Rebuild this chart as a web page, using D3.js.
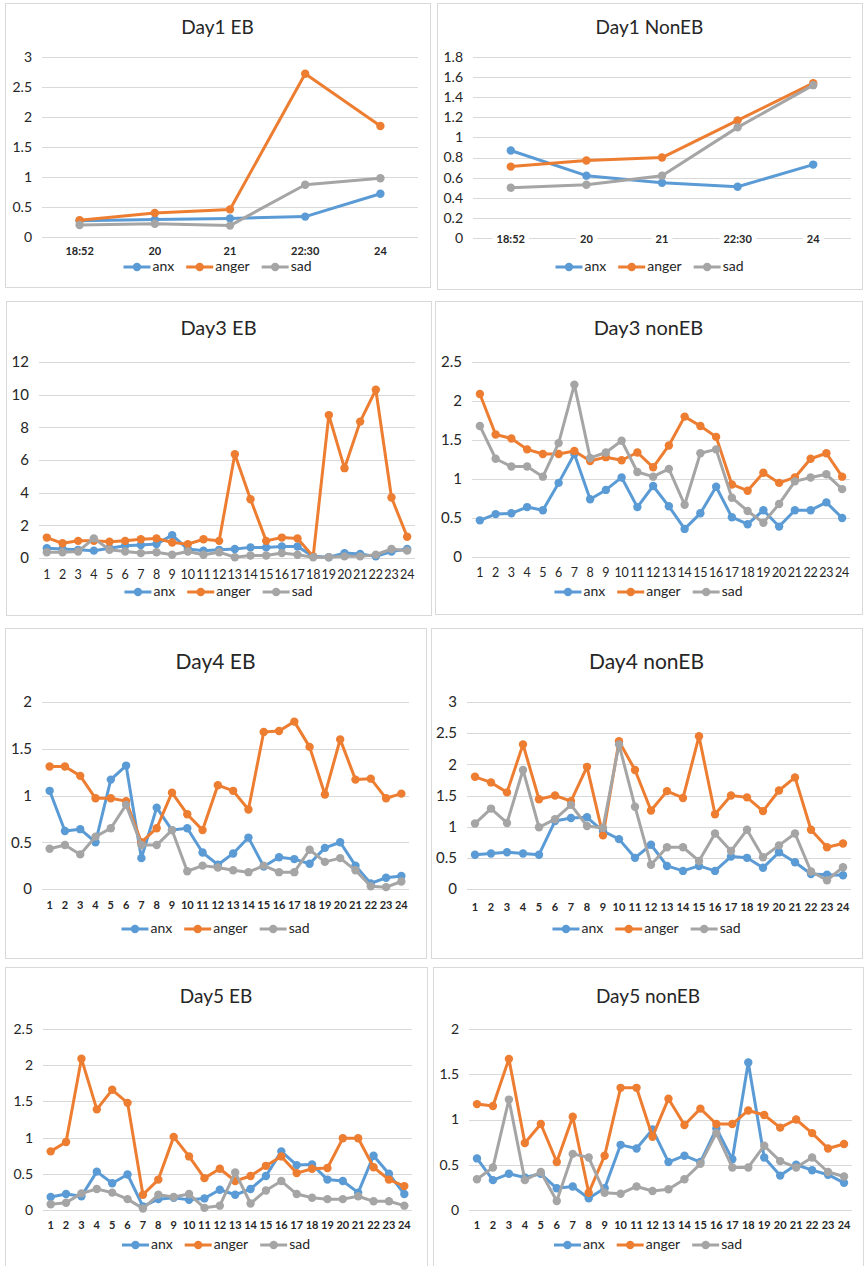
<!DOCTYPE html>
<html>
<head>
<meta charset="utf-8">
<script src="https://cdn.jsdelivr.net/npm/d3@7"></script>
<style>
  body { margin: 0; background: #fff; }
  text { font-family: Lato, "Open Sans", sans-serif; fill: #262626; }
</style>
</head>
<body>
<svg id="chart" width="864" height="1266"></svg>
<script>
// category labels
const day1Cats = ["18:52", "20", "21", "22:30", "24"];
const hourCats = ["1", "2", "3", "4", "5", "6", "7", "8", "9", "10", "11", "12",
                  "13", "14", "15", "16", "17", "18", "19", "20", "21", "22", "23", "24"];

// Day1 EB
const d1ebAnx   = [0.27, 0.29, 0.31, 0.34, 0.72];
const d1ebAnger = [0.28, 0.40, 0.46, 2.72, 1.85];
const d1ebSad   = [0.20, 0.22, 0.19, 0.87, 0.98];

// Day1 NonEB
const d1nAnx   = [0.87, 0.62, 0.55, 0.51, 0.73];
const d1nAnger = [0.71, 0.77, 0.80, 1.17, 1.54];
const d1nSad   = [0.50, 0.53, 0.62, 1.10, 1.52];

// Day3 EB
const d3ebAnx   = [0.6, 0.55, 0.5, 0.45, 0.6, 0.75, 0.8, 0.85, 1.4, 0.55, 0.45, 0.5,
                   0.55, 0.65, 0.65, 0.7, 0.7, 0.1, 0.05, 0.3, 0.25, 0.1, 0.4, 0.55];
const d3ebAnger = [1.25, 0.9, 1.05, 1.05, 1.0, 1.05, 1.15, 1.2, 0.95, 0.85, 1.15, 1.05,
                   6.35, 3.6, 1.05, 1.25, 1.2, 0.1, 8.75, 5.5, 8.35, 10.3, 3.7, 1.3];
const d3ebSad   = [0.35, 0.35, 0.4, 1.2, 0.5, 0.4, 0.3, 0.35, 0.2, 0.4, 0.2, 0.35,
                   0.05, 0.15, 0.15, 0.3, 0.2, 0.05, 0.05, 0.1, 0.1, 0.2, 0.55, 0.45];

// Day3 nonEB
const d3nAnx   = [0.47, 0.55, 0.56, 0.64, 0.6, 0.95, 1.32, 0.74, 0.86, 1.02, 0.64, 0.91,
                  0.65, 0.36, 0.56, 0.9, 0.51, 0.42, 0.6, 0.39, 0.6, 0.6, 0.7, 0.5];
const d3nAnger = [2.09, 1.57, 1.52, 1.38, 1.32, 1.32, 1.36, 1.23, 1.28, 1.24, 1.34, 1.15,
                  1.43, 1.8, 1.68, 1.54, 0.93, 0.85, 1.08, 0.95, 1.02, 1.26, 1.33, 1.03];
const d3nSad   = [1.68, 1.26, 1.16, 1.16, 1.03, 1.46, 2.21, 1.27, 1.34, 1.49, 1.09, 1.03,
                  1.13, 0.67, 1.33, 1.38, 0.76, 0.59, 0.44, 0.68, 0.97, 1.02, 1.06, 0.87];

// Day4 EB
const d4ebAnx   = [1.05, 0.62, 0.64, 0.5, 1.17, 1.32, 0.33, 0.87, 0.63, 0.65, 0.39, 0.26,
                   0.38, 0.55, 0.24, 0.34, 0.32, 0.27, 0.44, 0.5, 0.25, 0.06, 0.12, 0.14];
const d4ebAnger = [1.31, 1.31, 1.21, 0.97, 0.97, 0.94, 0.5, 0.65, 1.03, 0.8, 0.63, 1.11,
                   1.05, 0.85, 1.68, 1.69, 1.79, 1.52, 1.01, 1.6, 1.17, 1.18, 0.97, 1.02];
const d4ebSad   = [0.43, 0.47, 0.37, 0.56, 0.65, 0.9, 0.47, 0.47, 0.63, 0.19, 0.25, 0.23,
                   0.2, 0.18, 0.25, 0.18, 0.18, 0.42, 0.29, 0.33, 0.2, 0.03, 0.02, 0.08];

// Day4 nonEB
const d4nAnx   = [0.55, 0.57, 0.59, 0.57, 0.55, 1.09, 1.14, 1.15, 0.93, 0.8, 0.5, 0.71,
                  0.37, 0.29, 0.37, 0.29, 0.52, 0.5, 0.34, 0.59, 0.43, 0.24, 0.23, 0.22];
const d4nAnger = [1.8, 1.71, 1.55, 2.32, 1.44, 1.5, 1.41, 1.96, 0.86, 2.37, 1.91, 1.26,
                  1.57, 1.46, 2.45, 1.2, 1.5, 1.47, 1.25, 1.58, 1.79, 0.95, 0.67, 0.73];
const d4nSad   = [1.05, 1.29, 1.06, 1.91, 0.99, 1.12, 1.35, 1.01, 0.98, 2.32, 1.32, 0.39,
                  0.67, 0.67, 0.45, 0.89, 0.61, 0.95, 0.51, 0.7, 0.89, 0.28, 0.14, 0.35];

// Day5 EB
const d5ebAnx   = [0.18, 0.22, 0.19, 0.53, 0.37, 0.49, 0.05, 0.15, 0.17, 0.14, 0.16, 0.28,
                   0.21, 0.29, 0.47, 0.81, 0.62, 0.63, 0.42, 0.4, 0.24, 0.75, 0.5, 0.22];
const d5ebAnger = [0.81, 0.94, 2.09, 1.39, 1.66, 1.48, 0.21, 0.42, 1.01, 0.74, 0.44, 0.57,
                   0.4, 0.47, 0.61, 0.74, 0.51, 0.57, 0.58, 0.99, 0.99, 0.59, 0.42, 0.33];
const d5ebSad   = [0.08, 0.1, 0.23, 0.29, 0.24, 0.15, 0.02, 0.21, 0.18, 0.22, 0.03, 0.06,
                   0.52, 0.09, 0.27, 0.4, 0.22, 0.17, 0.15, 0.15, 0.19, 0.12, 0.12, 0.06];

// Day5 nonEB
const d5nAnx   = [0.57, 0.33, 0.4, 0.36, 0.4, 0.24, 0.26, 0.13, 0.24, 0.72, 0.68, 0.89,
                  0.53, 0.6, 0.53, 0.9, 0.56, 1.63, 0.58, 0.38, 0.5, 0.44, 0.39, 0.3];
const d5nAnger = [1.17, 1.15, 1.67, 0.74, 0.95, 0.53, 1.03, 0.19, 0.6, 1.35, 1.35, 0.81,
                  1.23, 0.94, 1.12, 0.95, 0.95, 1.1, 1.05, 0.91, 1.0, 0.85, 0.68, 0.73];
const d5nSad   = [0.34, 0.47, 1.22, 0.33, 0.42, 0.1, 0.62, 0.58, 0.19, 0.18, 0.26, 0.21,
                  0.23, 0.34, 0.51, 0.85, 0.47, 0.47, 0.71, 0.54, 0.47, 0.58, 0.42, 0.37];

const seriesNames = ["anx", "anger", "sad"];
const colors = {anx: "#5B9BD5", anger: "#ED7D31", sad: "#A5A5A5"};

// panel layout: box = frame, plot = [left, right, top(yMax), bottom(0)]
const panels = [
    {title: "Day1 EB", cats: day1Cats, data: [d1ebAnx, d1ebAnger, d1ebSad], yMax: 3, ticks: 6,
     box: [5, 3, 425, 284], plot: [42, 418, 57, 237], titleY: 34, labelY: 255, legendY: 267,
     titleSize: 19, tickSize: 14, labelSize: 11, labelBold: true},
    {title: "Day1 NonEB", cats: day1Cats, data: [d1nAnx, d1nAnger, d1nSad], yMax: 1.8, ticks: 9,
     box: [437, 3, 425, 286], plot: [473, 851, 57, 238], titleY: 34, labelY: 243, legendY: 267,
     titleSize: 19, tickSize: 14, labelSize: 11, labelBold: true, labelOnAxis: true},
    {title: "Day3 EB", cats: hourCats, data: [d3ebAnx, d3ebAnger, d3ebSad], yMax: 12, ticks: 6,
     box: [6, 301, 425, 314], plot: [39, 415, 362, 558], titleY: 335, labelY: 579, legendY: 592,
     titleSize: 20, tickSize: 15, labelSize: 12.5, labelBold: false},
    {title: "Day3 nonEB", cats: hourCats, data: [d3nAnx, d3nAnger, d3nSad], yMax: 2.5, ticks: 5,
     box: [435, 301, 427, 313], plot: [472, 850, 362, 557], titleY: 335, labelY: 577, legendY: 592,
     titleSize: 20, tickSize: 15, labelSize: 12.5, labelBold: false},
    {title: "Day4 EB", cats: hourCats, data: [d4ebAnx, d4ebAnger, d4ebSad], yMax: 2, ticks: 4,
     box: [5, 628, 421, 330], plot: [42, 409, 702, 889], titleY: 669, labelY: 909, legendY: 929,
     titleSize: 21, tickSize: 15, labelSize: 11, labelBold: true},
    {title: "Day4 nonEB", cats: hourCats, data: [d4nAnx, d4nAnger, d4nSad], yMax: 3, ticks: 6,
     box: [431, 628, 431, 330], plot: [467, 851, 702, 889], titleY: 669, labelY: 911, legendY: 929,
     titleSize: 21, tickSize: 15, labelSize: 11, labelBold: true},
    {title: "Day5 EB", cats: hourCats, data: [d5ebAnx, d5ebAnger, d5ebSad], yMax: 2.5, ticks: 5,
     box: [5, 967, 422, 310], plot: [43, 412, 1029, 1210], titleY: 1003, labelY: 1229, legendY: 1245,
     titleSize: 19, tickSize: 14, labelSize: 11, labelBold: true},
    {title: "Day5 nonEB", cats: hourCats, data: [d5nAnx, d5nAnger, d5nSad], yMax: 2, ticks: 4,
     box: [433, 967, 430, 310], plot: [469, 852, 1029, 1210], titleY: 1003, labelY: 1229, legendY: 1245,
     titleSize: 19, tickSize: 14, labelSize: 11, labelBold: true}
];

const svg = d3.select("#chart");
svg.append("rect").attr("width", 864).attr("height", 1266).attr("fill", "#fff");

/**
 * draws one small line chart panel
 */
function drawPanel(p) {
    const [bx, by, bw, bh] = p.box;
    const [left, right, top, bottom] = p.plot;
    const g = svg.append("g");

    // frame
    g.append("rect")
        .attr("x", bx + 0.5).attr("y", by + 0.5)
        .attr("width", bw).attr("height", bh)
        .attr("fill", "#fff").attr("stroke", "#d9d9d9");

    const x = d3.scaleBand().domain(p.cats).range([left, right]);
    const y = d3.scaleLinear().domain([0, p.yMax]).range([bottom, top]);

    // gridlines + y labels
    const ticks = y.ticks(p.ticks);
    g.selectAll(".grid").data(ticks).join("line")
        .attr("x1", left).attr("x2", right)
        .attr("y1", d => Math.round(y(d)) + 0.5).attr("y2", d => Math.round(y(d)) + 0.5)
        .attr("stroke", "#d9d9d9").attr("stroke-width", 1);
    g.selectAll(".ytick").data(ticks).join("text")
        .attr("x", left - 10).attr("y", d => y(d)).attr("dy", "0.35em")
        .attr("text-anchor", "end").style("font-size", p.tickSize + "px")
        .text(d => d3.format("~g")(d));

    // x labels
    const xl = g.selectAll(".xl").data(p.cats).join("text")
        .attr("x", d => x(d) + x.bandwidth() / 2).attr("y", p.labelY)
        .attr("text-anchor", "middle")
        .style("font-size", p.labelSize + "px")
        .style("font-weight", p.labelBold ? "bold" : "normal")
        .text(d => d);
    if (p.labelOnAxis) {
        // labels sit on the zero line, knock out the line behind them
        xl.each(function () {
            const bb = this.getBBox();
            g.insert("rect", () => this)
                .attr("x", bb.x - 4).attr("y", bb.y).attr("width", bb.width + 8).attr("height", bb.height)
                .attr("fill", "#fff");
        });
    }

    // lines and markers
    const line = d3.line().x((d, i) => x(p.cats[i]) + x.bandwidth() / 2).y(d => y(d));
    seriesNames.forEach((name, si) => {
        const vals = p.data[si];
        g.append("path").datum(vals)
            .attr("d", line).attr("fill", "none")
            .attr("stroke", colors[name]).attr("stroke-width", 3)
            .attr("stroke-linejoin", "round");
        g.selectAll(".m" + si).data(vals).join("circle")
            .attr("cx", (d, i) => x(p.cats[i]) + x.bandwidth() / 2)
            .attr("cy", d => y(d)).attr("r", 4.2)
            .attr("fill", colors[name]);
    });

    // title
    g.append("text")
        .attr("x", bx + bw / 2).attr("y", p.titleY)
        .attr("text-anchor", "middle").style("font-size", p.titleSize + "px")
        .text(p.title);

    // legend
    const leg = g.append("g");
    let cx = 0;
    seriesNames.forEach(name => {
        leg.append("line").attr("x1", cx).attr("x2", cx + 27).attr("y1", 0).attr("y2", 0)
            .attr("stroke", colors[name]).attr("stroke-width", 3);
        leg.append("circle").attr("cx", cx + 13.5).attr("cy", 0).attr("r", 4.2).attr("fill", colors[name]);
        const t = leg.append("text").attr("x", cx + 29).attr("y", 0).attr("dy", "0.32em")
            .style("font-size", "14px").text(name);
        cx += 29 + t.node().getComputedTextLength() + 12;
    });
    const lw = cx - 12;
    leg.attr("transform", `translate(${bx + bw / 2 - lw / 2},${p.legendY})`);
}

panels.forEach(drawPanel);
</script>
</body>
</html>
